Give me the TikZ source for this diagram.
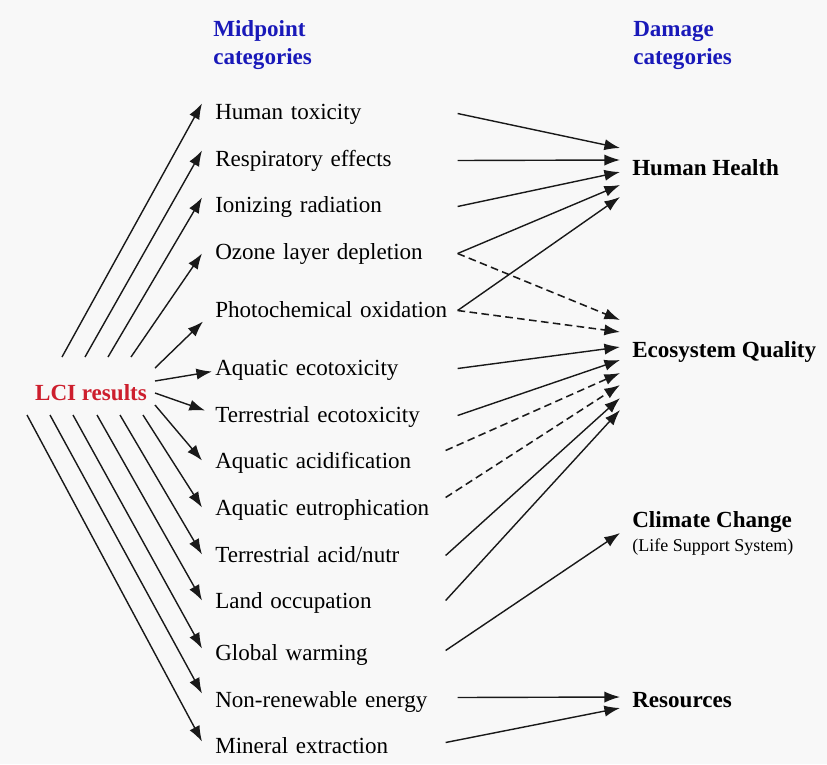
\documentclass[tikz,border=0pt]{standalone}
\usepackage{fontspec}
\setmainfont{Liberation Serif}
\usetikzlibrary{calc,arrows.meta}
\definecolor{bgc}{RGB}{248,248,248}
\definecolor{headc}{RGB}{25,25,185}
\definecolor{lcic}{RGB}{205,30,45}
\tikzset{
  fixh/.style={text height=0.375cm,text depth=0.1cm},
  mid/.style={fixh,anchor=base west,inner xsep=0pt,inner ysep=1pt,text width=6.05cm,align=left,font=\fontsize{16.4}{19.7}\selectfont},
  dmg/.style={anchor=west,inner xsep=0.3cm,inner ysep=1pt,align=left,font=\fontsize{16.4}{19.7}\selectfont\bfseries},
  head/.style={anchor=west,inner sep=0pt,align=left,text=headc,font=\fontsize{16.4}{19.9}\selectfont\bfseries},
  arr/.style={-{Latex[length=3.9mm,width=2.8mm]},line width=1pt,black!90},
  dsh/.style={arr,line width=1.1pt,dash pattern=on 1.9mm off 1.1mm},
}
\begin{document}
\begin{tikzpicture}[x=0.025cm,y=-0.025cm]
  \fill[bgc] (0,0) rectangle (827,764);
  \useasboundingbox (0,0) rectangle (827,764);
  % column headers
  \node[head] (midh) at (213,45) {Midpoint\\categories};
  \node[head] (dmgh) at (633,45) {Damage\\categories};
  % inventory
  \node[inner sep=2pt,text=lcic,font=\fontsize{16.4}{19.7}\selectfont\bfseries] (lci) at (91,393) {LCI results};
  % midpoint categories
  \node[mid] (htox) at (215,119) {Human toxicity};
  \node[mid] (resp) at (215,166) {Respiratory effects};
  \node[mid] (ion) at (215,212) {Ionizing radiation};
  \node[mid] (ozone) at (215,259) {Ozone layer depletion};
  \node[mid] (photo) at (215,317) {Photochemical oxidation};
  \node[mid] (aqeco) at (215,375) {Aquatic ecotoxicity};
  \node[mid] (tereco) at (215,422) {Terrestrial ecotoxicity};
  \node[mid] (aqacid) at (215,468) {Aquatic acidification};
  \node[mid] (aqeut) at (215,515) {Aquatic eutrophication};
  \node[mid] (teracid) at (215,562) {Terrestrial acid/nutr};
  \node[mid] (land) at (215,608) {Land occupation};
  \node[mid] (gw) at (215,660) {Global warming};
  \node[mid] (nre) at (215,707) {Non-renewable energy};
  \node[mid] (mineral) at (215,753) {Mineral extraction};
  % damage categories
  \node[dmg,fixh] (hh) at (620,170) {Human Health};
  \node[dmg,fixh] (eq) at (620,352) {Ecosystem Quality};
  \node[dmg,font=\fontsize{16.4}{17}\selectfont\bfseries] (cc) at (620,533) {Climate Change\\{\fontsize{12.8}{15}\selectfont\mdseries (Life Support System)}};
  \node[dmg,fixh] (res) at (620,702) {Resources};
  % inventory -> midpoint
  \foreach \m/\sx/\sy/\tx/\ty in {htox/-29/-36/-13/-10,resp/-6/-36/-13/-10,ion/17/-36/-13/-9,
      ozone/40/-36/-13/0,photo/64/-25/-12/10,aqeco/64/-12/-3/2,tereco/64/0/-10/-6,
      aqacid/64/12/-13/-2,aqeut/52/22/-13/-2,teracid/29/22/-13/-2,land/6/22/-13/-2,
      gw/-18/22/-13/-6,nre/-41/22/-13/-8,mineral/-64/22/-13/-6}
    {\draw[arr] ($(lci.center)+(\sx,\sy)$) -- ($(\m.west)+(\tx,\ty)$);}
  % midpoint -> damage
  \foreach \a/\ax/\ay/\b/\by/\st in {htox/0/0/hh/-22/arr,resp/0/0/hh/-10/arr,ion/0/0/hh/2/arr,
      ozone/0/0/hh/15/arr,photo/0/-1/hh/27/arr,ozone/0/0/eq/-32/dsh,photo/0/-1/eq/-20/dsh,
      aqeco/0/-1/eq/-5/arr,tereco/0/-1/eq/8/arr,aqacid/-12/-12/eq/21/dsh,aqeut/-12/-12/eq/33/dsh,
      teracid/-12/-1/eq/46/arr,land/-12/-2/eq/58/arr,gw/-12/-4/cc/0/arr,
      nre/0/-4/res/-5/arr,mineral/-12/-5/res/6/arr}
    {\draw[\st] ($(\a.east)+(\ax,\ay)$) -- ($(\b.west)+(0,\by)$);}
\end{tikzpicture}
\end{document}
